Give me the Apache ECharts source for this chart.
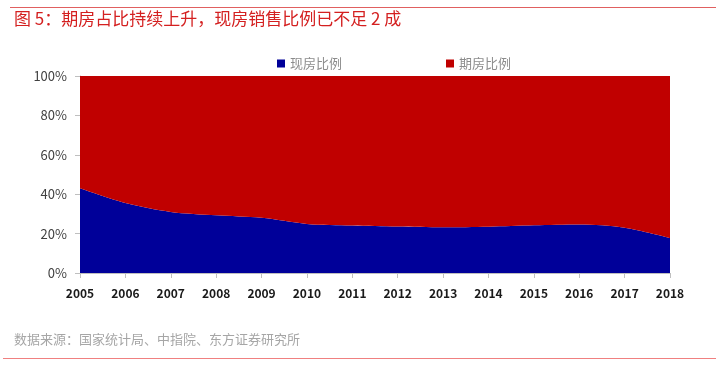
<!DOCTYPE html>
<html><head><meta charset="utf-8">
<script src="https://cdn.jsdelivr.net/npm/echarts@6/dist/echarts.min.js"></script>
<style>html,body{margin:0;padding:0;background:#fff}#c{width:716px;height:372px}</style>
</head><body><div id="c"></div>
<script>
var years = ['2005','2006','2007','2008','2009','2010','2011','2012','2013','2014','2015','2016','2017','2018'];
var spotShare = [43.0, 35.5, 31.0, 29.3, 28.0, 24.9, 24.1, 23.6, 23.2, 23.5, 24.2, 24.6, 23.0, 17.8];
var futureShare = spotShare.map(function(v){ return +(100 - v).toFixed(1); });
var yTicks = [0, 20, 40, 60, 80, 100];

var chart = echarts.init(document.getElementById('c'));
var font = '"Noto Sans CJK SC", "Noto Sans", sans-serif';
chart.setOption({
  animation: false,
  textStyle: { fontFamily: font },
  legend: {
    top: 52, left: 272, itemGap: 104,
    itemWidth: 8, itemHeight: 8, icon: 'rect',
    textStyle: { fontSize: 13, color: '#8c8c8c', fontFamily: font },
    data: ['现房比例', '期房比例']
  },
  grid: { left: 80, right: 46, top: 76, bottom: 99 },
  xAxis: {
    type: 'category', data: years, boundaryGap: false,
    axisLine: { lineStyle: { color: '#bfbfbf' } },
    axisTick: { show: true, length: 5, lineStyle: { color: '#bfbfbf' } },
    axisLabel: { color: '#1a1a1a', fontSize: 12, margin: 14, fontWeight: 'bold' }
  },
  yAxis: {
    type: 'value', min: yTicks[0], max: yTicks[yTicks.length-1], interval: 20,
    splitLine: { show: false },
    axisLine: { show: true, lineStyle: { color: '#bfbfbf' } },
    axisTick: { show: true, length: 5, lineStyle: { color: '#bfbfbf' } },
    axisLabel: { color: '#404040', fontSize: 13, margin: 13, formatter: '{value}%' }
  },
  series: [
    { name: '现房比例', type: 'line', stack: 'all', data: spotShare, smooth: 0.3,
      symbol: 'none', lineStyle: { width: 0 }, itemStyle: { color: '#000099' },
      areaStyle: { color: '#000099', opacity: 1 } },
    { name: '期房比例', type: 'line', stack: 'all', data: futureShare, smooth: 0.3,
      symbol: 'none', lineStyle: { width: 0 }, itemStyle: { color: '#C00000' },
      areaStyle: { color: '#C00000', opacity: 1 } }
  ],
  graphic: [
    { type: 'rect', shape: { x: 10, y: 7, width: 706, height: 1 }, style: { fill: '#e06060' } },
    { type: 'text', left: 14, top: 10, style: { text: '图 5：期房占比持续上升，现房销售比例已不足 2 成', fill: '#d42020', fontSize: 17, fontFamily: font } },
    { type: 'text', left: 14, top: 333, style: { text: '数据来源：国家统计局、中指院、东方证券研究所', fill: '#a6a6a6', fontSize: 13, fontFamily: font } },
    { type: 'rect', shape: { x: 3, y: 358, width: 713, height: 1 }, style: { fill: '#f08080' } }
  ]
});
</script></body></html>
